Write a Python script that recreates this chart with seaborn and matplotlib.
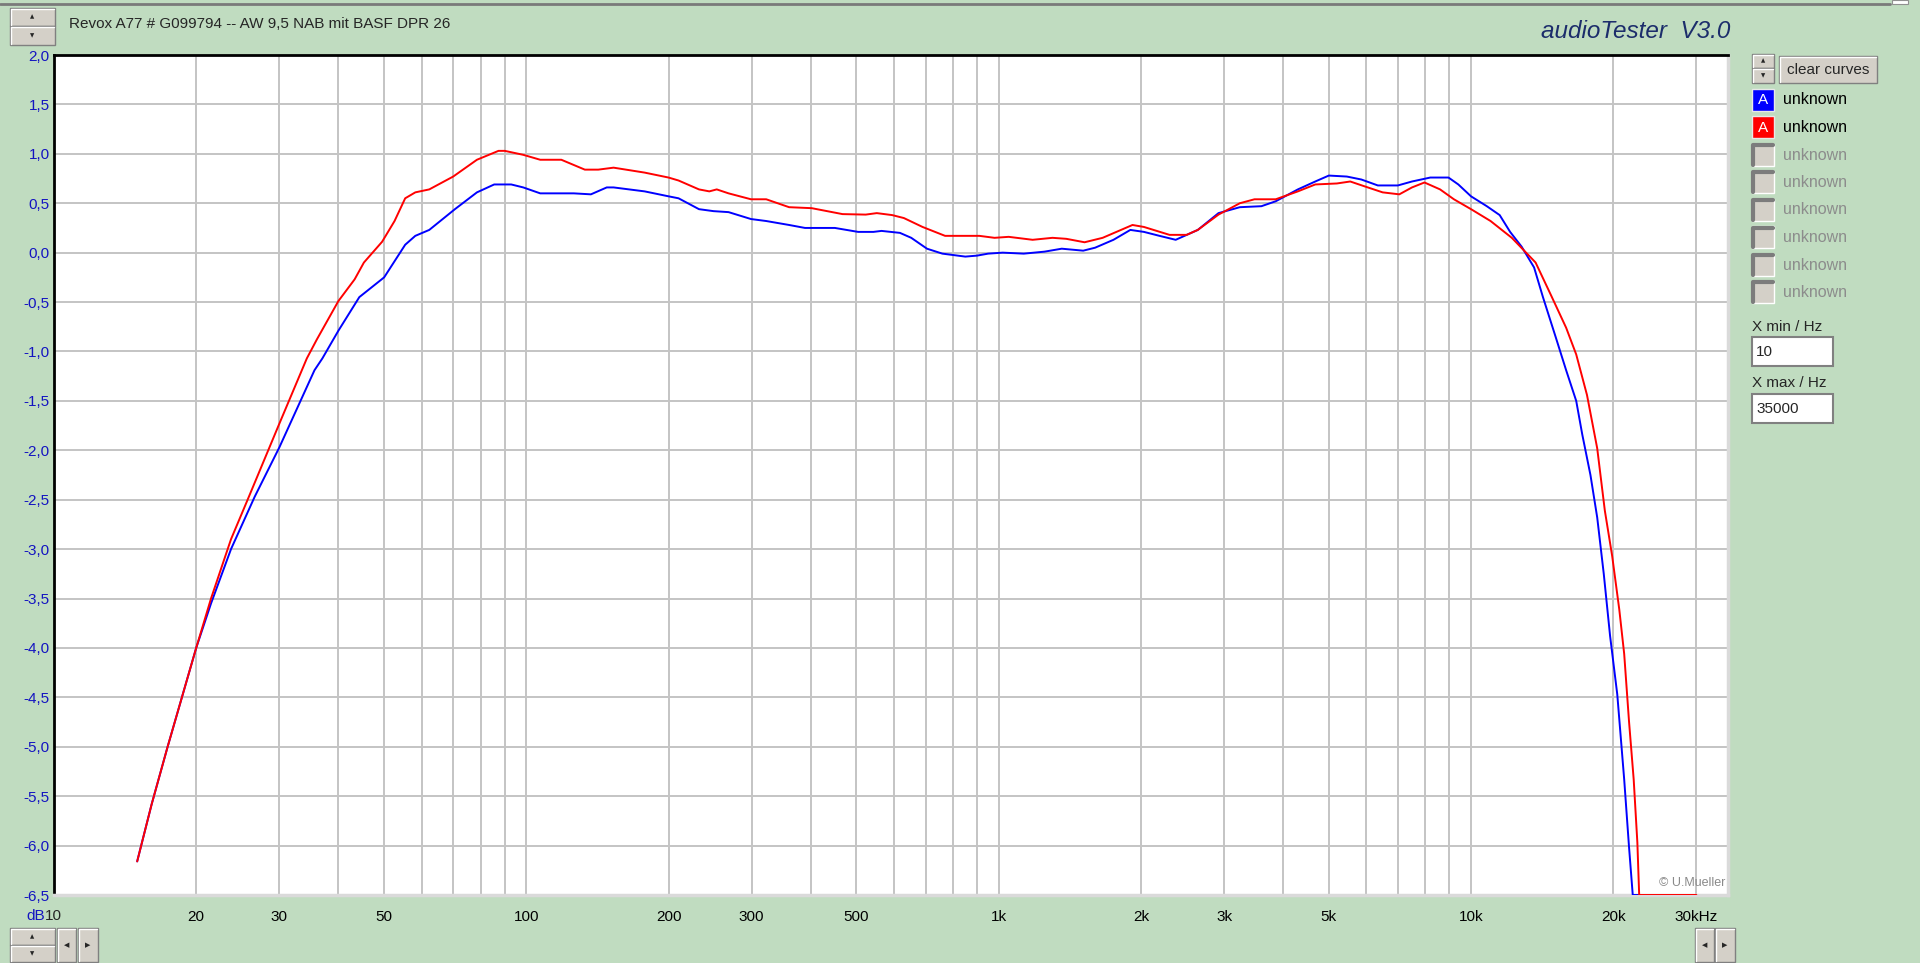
#Importing libraries
import pandas as pd
import matplotlib
matplotlib.use("Agg")
import matplotlib.pyplot as plt
from matplotlib.patches import Rectangle
from matplotlib.lines import Line2D
import seaborn as sns
import numpy as np

#Curve data (frequency in Hz, level in dB)
blue_freq = [15.0, 16.1, 17.4, 20.0, 21.5, 23.7, 26.6, 30.0, 35.6, 37.0, 40.0, 44.3, 50.0, 55.4, 58.2,
             62.3, 70.6, 78.6, 85.5, 92.9, 98.5, 107, 126, 137, 148, 153, 178, 200, 210, 232, 249,
             268, 299, 322, 360, 389, 450, 504, 543, 565, 618, 653, 705, 760, 850, 900, 950, 1020,
             1130, 1250, 1360, 1510, 1600, 1750, 1900, 2030, 2190, 2370, 2640, 2920, 3240, 3600,
             3860, 4300, 4680, 5000, 5460, 5860, 6350, 7000, 7500, 8200, 8960, 9400, 10000, 10800,
             11500, 12100, 12800, 13600, 14200, 15100, 15900, 16700, 17200, 17900, 18500, 19100,
             19700, 20400, 21100, 21600, 22000, 22700]
blue_db = [-6.16, -5.58, -5.0, -4.0, -3.55, -3.0, -2.47, -1.97, -1.19, -1.07, -0.79, -0.45, -0.25,
           0.08, 0.17, 0.23, 0.44, 0.61, 0.69, 0.69, 0.66, 0.60, 0.60, 0.59, 0.66, 0.66, 0.62, 0.57,
           0.55, 0.44, 0.42, 0.41, 0.34, 0.32, 0.28, 0.25, 0.25, 0.21, 0.21, 0.22, 0.20, 0.15, 0.04,
           -0.01, -0.04, -0.03, -0.01, 0.0, -0.01, 0.01, 0.04, 0.02, 0.05, 0.13, 0.23, 0.21, 0.17,
           0.13, 0.23, 0.40, 0.46, 0.47, 0.52, 0.64, 0.72, 0.78, 0.77, 0.74, 0.68, 0.68, 0.72, 0.76,
           0.76, 0.69, 0.57, 0.47, 0.38, 0.21, 0.06, -0.15, -0.45, -0.85, -1.19, -1.50, -1.84, -2.25,
           -2.68, -3.25, -3.88, -4.47, -5.33, -6.01, -6.5, -6.5]

red_freq = [15.0, 16.1, 17.4, 20.0, 21.5, 23.7, 25.7, 30.0, 34.3, 36.0, 40.0, 43.3, 45.3, 49.5, 52.6,
            55.4, 58.2, 62.3, 70.0, 78.6, 87.3, 90.0, 98.5, 107, 118.6, 133, 142, 153, 178, 200, 210,
            232, 244, 253, 268, 299, 322, 360, 402, 467, 523, 552, 595, 630, 690, 770, 910, 980,
            1050, 1180, 1300, 1390, 1520, 1660, 1920, 2030, 2300, 2500, 2640, 2920, 3240, 3480,
            3860, 4300, 4680, 5200, 5550, 5960, 6500, 7050, 7500, 7970, 8600, 9200, 10000, 11000,
            12200, 13700, 14800, 15900, 16700, 17600, 18500, 19200, 19900, 20600, 21100, 21600,
            22100, 22500, 22700, 30000]
red_db = [-6.16, -5.58, -5.0, -4.0, -3.5, -2.9, -2.5, -1.73, -1.07, -0.88, -0.49, -0.27, -0.10,
          0.11, 0.32, 0.55, 0.61, 0.64, 0.77, 0.94, 1.03, 1.03, 0.99, 0.94, 0.94, 0.84, 0.84, 0.86,
          0.81, 0.76, 0.73, 0.64, 0.62, 0.64, 0.60, 0.54, 0.54, 0.46, 0.45, 0.39, 0.385, 0.40, 0.38,
          0.35, 0.26, 0.17, 0.17, 0.15, 0.16, 0.13, 0.15, 0.14, 0.105, 0.15, 0.28, 0.26, 0.18, 0.18,
          0.23, 0.385, 0.50, 0.54, 0.54, 0.62, 0.69, 0.70, 0.72, 0.67, 0.61, 0.59, 0.66, 0.71, 0.64,
          0.54, 0.44, 0.32, 0.15, -0.10, -0.44, -0.76, -1.03, -1.44, -1.98, -2.61, -3.07, -3.61,
          -4.06, -4.74, -5.33, -5.97, -6.5, -6.5]

#Axis labels
x_label_pos = [10, 20, 30, 50, 100, 200, 300, 500, 1000, 2000, 3000, 5000, 10000, 20000, 30000]
x_label_txt = ["10", "20", "30", "50", "100", "200", "300", "500", "1k", "2k", "3k", "5k", "10k", "20k", "30kHz"]
y_ticks = [2.0, 1.5, 1.0, 0.5, 0.0, -0.5, -1.0, -1.5, -2.0, -2.5, -3.0, -3.5, -4.0, -4.5, -5.0, -5.5, -6.0, -6.5]

title_text = "Revox A77 # G099794 -- AW 9,5 NAB mit BASF DPR 26"
curve_names = ["unknown"] * 8

#Building a long table for seaborn
df = pd.concat([
    pd.DataFrame({"freq": blue_freq, "db": blue_db, "curve": "A1"}),
    pd.DataFrame({"freq": red_freq, "db": red_db, "curve": "A2"}),
])

W, H = 1920, 963
BG = "#C0DCC0"
BTN = "#D4D0C8"

sns.set_style("white")
plt.rcParams["font.family"] = ["Liberation Sans", "DejaVu Sans"]

fig = plt.figure(figsize=(19.2, 9.63), dpi=100)
fig.patch.set_facecolor(BG)

def fx(x):
    return x / W

def fy(y):
    return 1 - y / H

#Plot area
x0, x1, y0, y1 = 54, 1728, 55, 895
ax = fig.add_axes([fx(x0), fy(y1), fx(x1 - x0), (y1 - y0) / H])
ax.set_facecolor("white")

sns.lineplot(data=df, x="freq", y="db", hue="curve", palette={"A1": "#0000FF", "A2": "#FF0000"},
             estimator=None, sort=False, legend=False, linewidth=1.4, ax=ax, zorder=3)

ax.set_xscale("log")
ax.set_xlim(10, 35000)
ax.set_ylim(-6.5, 2.0)

#Gridlines on every 1..9 step of each decade
grid_pos = [m * 10 ** d for d in range(1, 5) for m in range(1, 10) if 10 < m * 10 ** d <= 30000]
ax.set_xticks(grid_pos)
ax.set_xticklabels([x_label_txt[x_label_pos.index(p)] if p in x_label_pos else "" for p in grid_pos])
ax.xaxis.set_minor_locator(matplotlib.ticker.NullLocator())
ax.set_yticks(y_ticks)
ax.set_yticklabels([f"{v:.1f}".replace(".", ",") for v in y_ticks])
ax.grid(True, color="#C4C4C4", linewidth=1.4)
ax.set_axisbelow(True)
ax.tick_params(axis="x", length=0, pad=11, labelsize=11, labelcolor="black")
ax.tick_params(axis="y", length=0, pad=3, labelsize=11, labelcolor="#1414C0")
ax.set_xlabel("")
ax.set_ylabel("")

ax.spines["left"].set_color("black")
ax.spines["top"].set_color("black")
ax.spines["left"].set_linewidth(2)
ax.spines["top"].set_linewidth(2)
ax.spines["bottom"].set_color("#DADADA")
ax.spines["right"].set_color("#DADADA")
ax.spines["bottom"].set_linewidth(2.5)
ax.spines["right"].set_linewidth(2.5)

#"10" label at the left edge next to "dB"
fig.text(fx(45), fy(916), "10", fontsize=11, ha="left", va="center")
fig.text(fx(45), fy(916), "dB", fontsize=11, ha="right", va="center", color="#1414C0")

fig.text(fx(1725), fy(883), "\u00a9 U.Mueller", fontsize=9, ha="right", va="center", color="#8A8A8A")

#Header texts
fig.text(fx(69), fy(24), title_text, fontsize=11, ha="left", va="center")
fig.text(fx(1730), fy(32), "audioTester  V3.0", fontsize=17.5, style="italic", ha="right", va="center",
         color="#1C2D6B")

#Window chrome
fig.add_artist(Line2D([0, fx(1890)], [fy(4), fy(4)], color="#7A7A7A", linewidth=2))
fig.add_artist(Rectangle((fx(1892), fy(4)), fx(16), 4 / H, facecolor="white", edgecolor="#909090", linewidth=0.8))

def button(x, y, w, h, label=None, size=10):
    fig.add_artist(Rectangle((fx(x), fy(y + h)), fx(w), h / H, facecolor=BTN, edgecolor="#808080", linewidth=1))
    fig.add_artist(Line2D([fx(x + 1), fx(x + 1), fx(x + w - 1)], [fy(y + h - 1), fy(y + 1), fy(y + 1)],
                          color="white", linewidth=1))
    if label is not None:
        fig.text(fx(x + w / 2), fy(y + h / 2), label, fontsize=size, ha="center", va="center")

def spinner(x, y, w, h):
    button(x, y, w, h / 2)
    button(x, y + h / 2, w, h / 2)
    fig.text(fx(x + w / 2), fy(y + h / 4), "\u25b2", fontsize=4, ha="center", va="center", family="DejaVu Sans")
    fig.text(fx(x + w / 2), fy(y + 3 * h / 4), "\u25bc", fontsize=4, ha="center", va="center", family="DejaVu Sans")

def arrow_btn(x, y, w, h, glyph):
    button(x, y, w, h)
    fig.text(fx(x + w / 2), fy(y + h / 2), glyph, fontsize=5, ha="center", va="center", family="DejaVu Sans")

spinner(10, 8, 45, 37)
spinner(10, 928, 45, 34)
arrow_btn(57, 928, 19, 34, "\u25c0")
arrow_btn(78, 928, 20, 34, "\u25b6")
arrow_btn(1695, 928, 19, 34, "\u25c0")
arrow_btn(1715, 928, 20, 34, "\u25b6")

#Right hand control panel
spinner(1752, 54, 22, 29)
button(1779, 56, 98, 27, "clear curves", size=11)

row_y = [100 + 27.5 * i for i in range(8)]
for i, (ry, name) in enumerate(zip(row_y, curve_names)):
    if i < 2:
        col = "#0000FF" if i == 0 else "#FF0000"
        fig.add_artist(Rectangle((fx(1752), fy(ry + 11)), fx(22), 22 / H, facecolor=col,
                                 edgecolor="#E8E8E8", linewidth=1))
        fig.text(fx(1763), fy(ry), "A", fontsize=11, color="white", ha="center", va="center")
        fig.text(fx(1783), fy(ry), name, fontsize=11.5, color="black", ha="left", va="center")
    else:
        fig.add_artist(Rectangle((fx(1752), fy(ry + 11)), fx(22), 22 / H, facecolor=BTN,
                                 edgecolor="white", linewidth=1))
        fig.add_artist(Line2D([fx(1753), fx(1753), fx(1773)], [fy(ry + 10), fy(ry - 10), fy(ry - 10)],
                              color="#7C7C7C", linewidth=3))
        fig.text(fx(1783), fy(ry), name, fontsize=11.5, color="#8C8C8C", ha="left", va="center")

fig.text(fx(1752), fy(327), "X min / Hz", fontsize=11, ha="left", va="center")
fig.add_artist(Rectangle((fx(1752), fy(366)), fx(81), 29 / H, facecolor="white", edgecolor="#808080", linewidth=1.5))
fig.text(fx(1756), fy(352), "10", fontsize=11, ha="left", va="center")
fig.text(fx(1752), fy(383), "X max / Hz", fontsize=11, ha="left", va="center")
fig.add_artist(Rectangle((fx(1752), fy(423)), fx(81), 29 / H, facecolor="white", edgecolor="#808080", linewidth=1.5))
fig.text(fx(1756), fy(409), "35000", fontsize=11, ha="left", va="center")

fig.savefig("out.png", dpi=100, facecolor=fig.get_facecolor())
